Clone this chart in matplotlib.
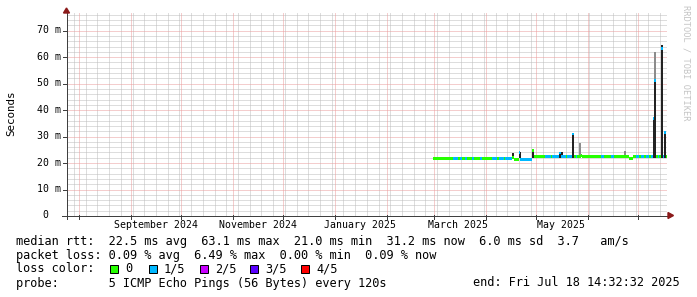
import math
import datetime as dt
import matplotlib
matplotlib.use("Agg")
import matplotlib.pyplot as plt
import matplotlib.dates as mdates
from matplotlib.patches import Rectangle, Polygon
from matplotlib.lines import Line2D

W, H, DPI = 697, 297, 100
FONT = "DejaVu Sans Mono"
FS = 8.55      # legend font
FS_AX = 7.1    # axis font
FS_UNIT = 7.8

# ---------------- data ----------------
end_time = dt.datetime(2025, 7, 18, 14, 32, 32)
span_days = 358.5
data_start = dt.datetime(2025, 3, 1)

y_ticks = [0, 10, 20, 30, 40, 50, 60, 70]
y_tick_labels = ["0  ", "10 m", "20 m", "30 m", "40 m", "50 m", "60 m", "70 m"]
y_max = 76.7
y_minor_step = 2

month_starts = ([dt.datetime(2024, m, 1) for m in range(8, 13)]
                + [dt.datetime(2025, m, 1) for m in range(1, 8)])
x_labels = ["September 2024", "November 2024", "January 2025", "March 2025", "May 2025"]
x_label_dates = [dt.datetime(2024, 9, 16), dt.datetime(2024, 11, 16),
                 dt.datetime(2025, 1, 16), dt.datetime(2025, 3, 16),
                 dt.datetime(2025, 5, 16)]

# daily median rtt (ms) from 2025-03-01
median_ms = [
    21.6, 21.6, 21.6, 21.6, 21.6, 21.6, 21.6, 21.6, 21.6, 21.6,   # 0-9
    21.6, 21.6, 21.6, 21.6, 21.6, 21.6, 21.6, 21.6, 21.6, 21.6,   # 10-19
    21.6, 21.6, 21.6, 21.6, 21.6, 21.6, 21.6, 21.6, 21.6, 21.6,   # 20-29
    21.6, 21.6, 21.6, 21.6, 21.6, 21.6, 21.6, 21.6, 21.6, 21.6,   # 30-39
    21.6, 21.6, 21.6, 21.6, 21.6, 21.6, 21.6, 21.8, 21.0, 21.0,   # 40-49
    21.0, 23.9, 21.0, 21.0, 21.0, 21.0, 21.0, 21.0, 21.0, 24.5,   # 50-59
    22.4, 22.4, 22.4, 22.4, 22.4, 22.4, 22.4, 22.3, 22.3, 22.3,   # 60-69
    22.3, 22.3, 22.3, 22.3, 22.3, 23.6, 22.3, 22.3, 22.3, 22.3,   # 70-79
    22.3, 22.3, 22.3, 30.8, 22.4, 22.4, 22.4, 22.4, 22.6, 22.4,   # 80-89
    22.4, 22.4, 22.4, 22.4, 22.4, 22.4, 22.4, 22.4, 22.4, 22.4,   # 90-99
    22.4, 22.4, 22.4, 22.4, 22.4, 22.4, 22.4, 22.4, 22.4, 22.4,   # 100-109
    22.4, 22.4, 22.4, 22.4, 22.4, 22.4, 22.4, 21.4, 21.4, 22.3,   # 110-119
    22.3, 22.3, 22.3, 22.3, 22.3, 22.3, 22.3, 22.3, 22.3, 22.3,   # 120-129
    22.3, 36.5, 51.0, 22.3, 22.3, 22.3, 63.1, 22.3, 31.2, 22.3,   # 130-139
]
# index of loss color (0 = no loss, 1 = 1/5 ...)
loss_idx = [
    0, 0, 0, 0, 0, 0, 0, 0, 0, 0,
    0, 0, 1, 1, 1, 0, 1, 0, 0, 1,
    0, 0, 0, 1, 0, 0, 0, 0, 1, 0,
    0, 0, 0, 0, 0, 1, 1, 1, 0, 1,
    1, 1, 0, 1, 1, 1, 1, 0, 0, 0,
    0, 1, 1, 1, 1, 1, 1, 1, 1, 0,
    0, 0, 0, 0, 0, 0, 0, 1, 1, 1,
    0, 1, 1, 1, 1, 1, 1, 1, 1, 0,
    1, 1, 1, 1, 0, 1, 0, 0, 0, 0,
    0, 0, 0, 0, 0, 0, 0, 0, 0, 0,
    1, 1, 0, 0, 0, 0, 1, 1, 0, 0,
    0, 0, 0, 0, 0, 0, 0, 0, 0, 0,
    0, 1, 1, 0, 1, 1, 0, 1, 1, 0,
    1, 1, 1, 0, 1, 0, 1, 1, 1, 0,
]
# smoke spikes: day index, top of dark smoke, top of light smoke (ms)
spike_days = [47, 51, 59, 75, 76, 83, 87, 114, 131, 132, 136, 138]
spike_dark = [23.5, 23.9, 24.7, 24.1, 24.1, 31.2, 22.6, 22.6, 36.5, 51.0, 64.4, 31.2]
spike_light = [23.5, 24.0, 24.7, 24.1, 24.1, 31.2, 27.4, 24.4, 36.5, 61.6, 64.4, 31.5]

loss_labels = ["0", "1/5", "2/5", "3/5", "4/5"]
loss_colors = ["#26ff00", "#00b8ff", "#c800ff", "#5a00ff", "#ff0000"]

legend_lines = [
    "median rtt:  22.5 ms avg  63.1 ms max  21.0 ms min  31.2 ms now  6.0 ms sd  3.7   am/s",
    "packet loss: 0.09 % avg  6.49 % max  0.00 % min  0.09 % now",
    "loss color:",
    "probe:       5 ICMP Echo Pings (56 Bytes) every 120s",
]
end_label = "end: Fri Jul 18 14:32:32 2025"

# ---------------- figure ----------------
fig = plt.figure(figsize=(W / DPI, H / DPI), dpi=DPI, facecolor="white")

AX_L, AX_R, AX_B, AX_T = 67, 667, 215.5, 12.5


def fx(x):
    return x / W


def fy(y):
    return 1 - y / H


ax = fig.add_axes([fx(AX_L), fy(AX_B), (AX_R - AX_L) / W, (AX_B - AX_T) / H])
ax.set_facecolor("none")
ax.set_zorder(1)
for s in ax.spines.values():
    s.set_visible(False)
ax.set_xticks([])
ax.set_yticks([])

x_end = mdates.date2num(end_time)
x_start = x_end - span_days
ax.set_xlim(x_start, x_end)
ax.set_ylim(0, y_max)


def ypix(v):
    return AX_B - v / y_max * (AX_B - AX_T)


def xpix(xd):
    return AX_L + (xd - x_start) / span_days * (AX_R - AX_L)


def snap(p):
    return math.floor(p) + 0.5


grid_minor = "#bdbdbd"
grid_major = "#eb9c9c"


def hline(yp, col, z):
    fig.add_artist(Line2D([fx(AX_L), fx(AX_R)], [fy(yp), fy(yp)], color=col, lw=0.72,
                          dashes=(1, 1), zorder=z, dash_capstyle="butt"))


def vline(xp, col, z):
    fig.add_artist(Line2D([fx(xp), fx(xp)], [fy(AX_B), fy(AX_T)], color=col, lw=0.72,
                          dashes=(1, 1), zorder=z, dash_capstyle="butt"))


# minor grid
for v in range(0, int(y_max) + 1, y_minor_step):
    if v % 10 != 0:
        hline(snap(ypix(v)), grid_minor, 0.1)
d = dt.datetime(2024, 7, 29)
while mdates.date2num(d) < x_end:
    if mdates.date2num(d) > x_start:
        vline(snap(xpix(mdates.date2num(d))), grid_minor, 0.1)
    d += dt.timedelta(days=7)
# major grid
for v in y_ticks:
    if v > 0:
        hline(snap(ypix(v)), grid_major, 0.2)
for m in month_starts:
    vline(snap(xpix(mdates.date2num(m))), grid_major, 0.2)

# smoke
x0 = mdates.date2num(data_start)
base = 21.8
for dday, dk, lt in zip(spike_days, spike_dark, spike_light):
    if lt > dk:
        ax.bar(x0 + dday, lt - dk, bottom=dk, width=1.3, align="edge",
               color="#8c8c8c", linewidth=0, zorder=3)
    if dk > base:
        ax.bar(x0 + dday, dk - base, bottom=base, width=1.3, align="edge",
               color="#222222", linewidth=0, zorder=3)
    else:
        ax.bar(x0 + dday, 0.8, bottom=base, width=1.3, align="edge",
               color="#222222", linewidth=0, zorder=3)

# median band colored by loss
xs = [x0 + i for i in range(len(median_ms))]
band = 0.55
ax.bar(xs, [2 * band] * len(xs), bottom=[m - band for m in median_ms], width=1.0,
       align="edge", color=[loss_colors[i] for i in loss_idx], linewidth=0, zorder=4)

# y labels
for v, lab in zip(y_ticks, y_tick_labels):
    fig.text(fx(60.5), fy(ypix(v)), lab, ha="right", va="center",
             family=FONT, fontsize=FS_AX, color="black")

# x labels
for lab, dd in zip(x_labels, x_label_dates):
    fig.text(fx(xpix(mdates.date2num(dd))), fy(225), lab, ha="center", va="center",
             family=FONT, fontsize=FS_AX)

# axis lines
axis_col = "#404040"
fig.add_artist(Line2D([fx(62), fx(668)], [fy(215.5), fy(215.5)], color=axis_col, lw=0.72,
                      zorder=2))
fig.add_artist(Line2D([fx(66.5), fx(66.5)], [fy(219), fy(11)], color=axis_col, lw=0.72,
                      zorder=2))
arrow_col = "#8b1a1a"
fig.add_artist(Polygon([[fx(63.5), fy(13)], [fx(69.5), fy(13)], [fx(66.5), fy(8)]],
                       closed=True, color=arrow_col, transform=fig.transFigure, zorder=2))
fig.add_artist(Polygon([[fx(668), fy(212.5)], [fx(668), fy(218.5)], [fx(673.5), fy(215.5)]],
                       closed=True, color=arrow_col, transform=fig.transFigure, zorder=2))
# ticks
for v in y_ticks:
    yp = snap(ypix(v))
    fig.add_artist(Line2D([fx(63), fx(67)], [fy(yp), fy(yp)], color=axis_col, lw=0.72,
                          zorder=2))
for m in month_starts:
    xp = snap(xpix(mdates.date2num(m)))
    fig.add_artist(Line2D([fx(xp), fx(xp)], [fy(215), fy(219)], color=axis_col, lw=0.72,
                          zorder=2))

# titles/annotations
fig.text(fx(11), fy(113), "Seconds", rotation=90, ha="center", va="center", family=FONT,
         fontsize=FS_UNIT)
fig.text(fx(686), fy(5), "RRDTOOL / TOBI OETIKER", rotation=270, ha="center", va="top",
         family=FONT, fontsize=6.2, color="#c4c4c4")

# legend text
rows = [241, 255, 269, 283]
for txt, yy in zip(legend_lines, rows):
    fig.text(fx(16), fy(yy), txt, ha="left", va="center", family=FONT, fontsize=FS)
fig.text(fx(680), fy(283), end_label, ha="right", va="center", family=FONT, fontsize=FS)

box_x = [109, 148, 199, 249, 300]
for bx, lab, col in zip(box_x, loss_labels, loss_colors):
    fig.add_artist(Rectangle((fx(bx + 0.5), fy(272.5)), 8 / W, 8 / H, facecolor=col,
                             edgecolor="black", linewidth=0.72, transform=fig.transFigure))
    fig.text(fx(bx + 16), fy(269), lab, ha="left", va="center", family=FONT, fontsize=FS)

fig.savefig("out.png", dpi=DPI, facecolor="white")
